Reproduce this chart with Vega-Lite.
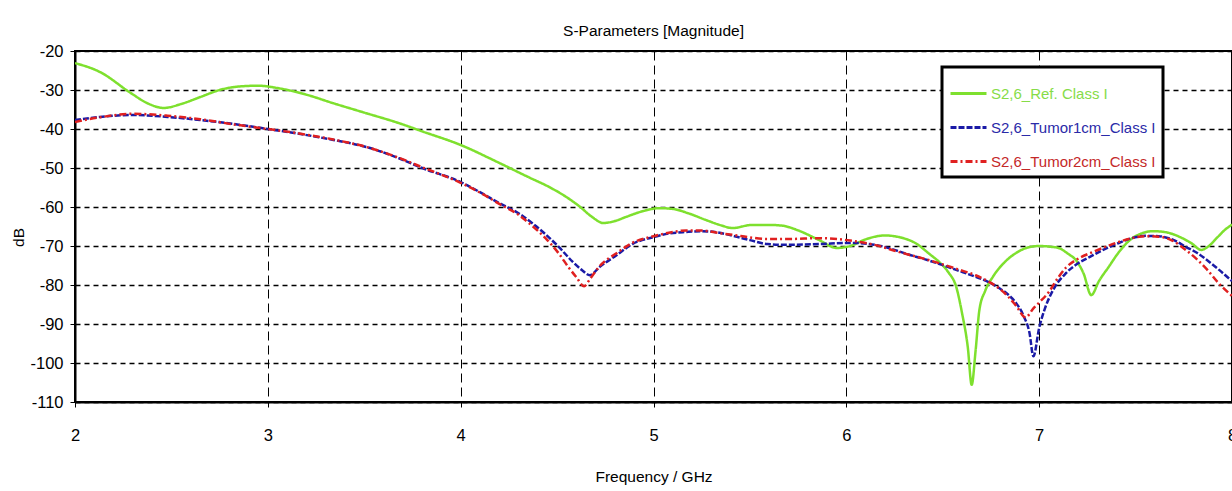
{
  "$schema": "https://vega.github.io/schema/vega-lite/v6.json",
  "width": 1157,
  "height": 351,
  "autosize": "none",
  "padding": {"left": 75, "top": 51, "right": 0, "bottom": 89},
  "background": "white",
  "config": {
    "font": "Liberation Sans",
    "view": {"stroke": "black", "strokeWidth": 2}
  },
  "title": {"text": "S-Parameters [Magnitude]", "fontSize": 15.5, "fontWeight": "normal", "color": "black", "anchor": "middle", "offset": 4},
  "datasets": {
    "curves": [
      {"s": "S2,6_Ref. Class I", "f": 2.00, "dB": -23.1},
      {"s": "S2,6_Ref. Class I", "f": 2.13, "dB": -25.4},
      {"s": "S2,6_Ref. Class I", "f": 2.29, "dB": -30.8},
      {"s": "S2,6_Ref. Class I", "f": 2.38, "dB": -33.5},
      {"s": "S2,6_Ref. Class I", "f": 2.46, "dB": -34.6},
      {"s": "S2,6_Ref. Class I", "f": 2.55, "dB": -33.6},
      {"s": "S2,6_Ref. Class I", "f": 2.65, "dB": -31.8},
      {"s": "S2,6_Ref. Class I", "f": 2.75, "dB": -30.0},
      {"s": "S2,6_Ref. Class I", "f": 2.85, "dB": -29.1},
      {"s": "S2,6_Ref. Class I", "f": 2.95, "dB": -28.9},
      {"s": "S2,6_Ref. Class I", "f": 3.05, "dB": -29.5},
      {"s": "S2,6_Ref. Class I", "f": 3.20, "dB": -31.2},
      {"s": "S2,6_Ref. Class I", "f": 3.34, "dB": -33.4},
      {"s": "S2,6_Ref. Class I", "f": 3.50, "dB": -35.8},
      {"s": "S2,6_Ref. Class I", "f": 3.68, "dB": -38.5},
      {"s": "S2,6_Ref. Class I", "f": 3.80, "dB": -40.6},
      {"s": "S2,6_Ref. Class I", "f": 4.00, "dB": -44.1},
      {"s": "S2,6_Ref. Class I", "f": 4.20, "dB": -48.7},
      {"s": "S2,6_Ref. Class I", "f": 4.35, "dB": -52.3},
      {"s": "S2,6_Ref. Class I", "f": 4.46, "dB": -54.9},
      {"s": "S2,6_Ref. Class I", "f": 4.55, "dB": -57.5},
      {"s": "S2,6_Ref. Class I", "f": 4.62, "dB": -60.0},
      {"s": "S2,6_Ref. Class I", "f": 4.68, "dB": -62.5},
      {"s": "S2,6_Ref. Class I", "f": 4.74, "dB": -64.1},
      {"s": "S2,6_Ref. Class I", "f": 4.80, "dB": -63.6},
      {"s": "S2,6_Ref. Class I", "f": 4.86, "dB": -62.5},
      {"s": "S2,6_Ref. Class I", "f": 4.95, "dB": -61.0},
      {"s": "S2,6_Ref. Class I", "f": 5.03, "dB": -60.3},
      {"s": "S2,6_Ref. Class I", "f": 5.10, "dB": -60.5},
      {"s": "S2,6_Ref. Class I", "f": 5.18, "dB": -61.6},
      {"s": "S2,6_Ref. Class I", "f": 5.27, "dB": -63.3},
      {"s": "S2,6_Ref. Class I", "f": 5.35, "dB": -64.7},
      {"s": "S2,6_Ref. Class I", "f": 5.41, "dB": -65.4},
      {"s": "S2,6_Ref. Class I", "f": 5.51, "dB": -64.6},
      {"s": "S2,6_Ref. Class I", "f": 5.60, "dB": -64.6},
      {"s": "S2,6_Ref. Class I", "f": 5.67, "dB": -64.8},
      {"s": "S2,6_Ref. Class I", "f": 5.75, "dB": -66.0},
      {"s": "S2,6_Ref. Class I", "f": 5.86, "dB": -68.5},
      {"s": "S2,6_Ref. Class I", "f": 5.95, "dB": -70.5},
      {"s": "S2,6_Ref. Class I", "f": 6.02, "dB": -70.0},
      {"s": "S2,6_Ref. Class I", "f": 6.10, "dB": -68.3},
      {"s": "S2,6_Ref. Class I", "f": 6.20, "dB": -67.3},
      {"s": "S2,6_Ref. Class I", "f": 6.28, "dB": -67.8},
      {"s": "S2,6_Ref. Class I", "f": 6.36, "dB": -69.3},
      {"s": "S2,6_Ref. Class I", "f": 6.43, "dB": -72.0},
      {"s": "S2,6_Ref. Class I", "f": 6.49, "dB": -74.5},
      {"s": "S2,6_Ref. Class I", "f": 6.53, "dB": -76.8},
      {"s": "S2,6_Ref. Class I", "f": 6.57, "dB": -80.5},
      {"s": "S2,6_Ref. Class I", "f": 6.60, "dB": -87.2},
      {"s": "S2,6_Ref. Class I", "f": 6.63, "dB": -96.0},
      {"s": "S2,6_Ref. Class I", "f": 6.65, "dB": -105.6},
      {"s": "S2,6_Ref. Class I", "f": 6.67, "dB": -97.0},
      {"s": "S2,6_Ref. Class I", "f": 6.69, "dB": -86.4},
      {"s": "S2,6_Ref. Class I", "f": 6.72, "dB": -81.5},
      {"s": "S2,6_Ref. Class I", "f": 6.76, "dB": -77.9},
      {"s": "S2,6_Ref. Class I", "f": 6.82, "dB": -74.2},
      {"s": "S2,6_Ref. Class I", "f": 6.88, "dB": -71.8},
      {"s": "S2,6_Ref. Class I", "f": 6.94, "dB": -70.4},
      {"s": "S2,6_Ref. Class I", "f": 7.00, "dB": -70.0},
      {"s": "S2,6_Ref. Class I", "f": 7.06, "dB": -70.2},
      {"s": "S2,6_Ref. Class I", "f": 7.10, "dB": -70.5},
      {"s": "S2,6_Ref. Class I", "f": 7.15, "dB": -72.0},
      {"s": "S2,6_Ref. Class I", "f": 7.19, "dB": -73.6},
      {"s": "S2,6_Ref. Class I", "f": 7.23, "dB": -77.0},
      {"s": "S2,6_Ref. Class I", "f": 7.27, "dB": -82.6},
      {"s": "S2,6_Ref. Class I", "f": 7.31, "dB": -79.0},
      {"s": "S2,6_Ref. Class I", "f": 7.36, "dB": -75.4},
      {"s": "S2,6_Ref. Class I", "f": 7.41, "dB": -71.8},
      {"s": "S2,6_Ref. Class I", "f": 7.47, "dB": -68.5},
      {"s": "S2,6_Ref. Class I", "f": 7.53, "dB": -66.8},
      {"s": "S2,6_Ref. Class I", "f": 7.59, "dB": -66.2},
      {"s": "S2,6_Ref. Class I", "f": 7.66, "dB": -66.5},
      {"s": "S2,6_Ref. Class I", "f": 7.73, "dB": -67.7},
      {"s": "S2,6_Ref. Class I", "f": 7.79, "dB": -69.3},
      {"s": "S2,6_Ref. Class I", "f": 7.84, "dB": -71.0},
      {"s": "S2,6_Ref. Class I", "f": 7.88, "dB": -70.0},
      {"s": "S2,6_Ref. Class I", "f": 7.92, "dB": -68.0},
      {"s": "S2,6_Ref. Class I", "f": 7.96, "dB": -66.0},
      {"s": "S2,6_Ref. Class I", "f": 8.00, "dB": -64.5},

      {"s": "S2,6_Tumor1cm_Class I", "f": 2.00, "dB": -37.7},
      {"s": "S2,6_Tumor1cm_Class I", "f": 2.13, "dB": -36.9},
      {"s": "S2,6_Tumor1cm_Class I", "f": 2.30, "dB": -36.4},
      {"s": "S2,6_Tumor1cm_Class I", "f": 2.48, "dB": -36.9},
      {"s": "S2,6_Tumor1cm_Class I", "f": 2.65, "dB": -37.7},
      {"s": "S2,6_Tumor1cm_Class I", "f": 2.82, "dB": -38.7},
      {"s": "S2,6_Tumor1cm_Class I", "f": 3.00, "dB": -40.0},
      {"s": "S2,6_Tumor1cm_Class I", "f": 3.17, "dB": -41.3},
      {"s": "S2,6_Tumor1cm_Class I", "f": 3.34, "dB": -42.8},
      {"s": "S2,6_Tumor1cm_Class I", "f": 3.51, "dB": -44.6},
      {"s": "S2,6_Tumor1cm_Class I", "f": 3.68, "dB": -47.5},
      {"s": "S2,6_Tumor1cm_Class I", "f": 3.80, "dB": -50.0},
      {"s": "S2,6_Tumor1cm_Class I", "f": 4.00, "dB": -53.6},
      {"s": "S2,6_Tumor1cm_Class I", "f": 4.10, "dB": -56.2},
      {"s": "S2,6_Tumor1cm_Class I", "f": 4.20, "dB": -59.0},
      {"s": "S2,6_Tumor1cm_Class I", "f": 4.30, "dB": -61.6},
      {"s": "S2,6_Tumor1cm_Class I", "f": 4.37, "dB": -64.1},
      {"s": "S2,6_Tumor1cm_Class I", "f": 4.44, "dB": -67.0},
      {"s": "S2,6_Tumor1cm_Class I", "f": 4.51, "dB": -70.3},
      {"s": "S2,6_Tumor1cm_Class I", "f": 4.58, "dB": -74.0},
      {"s": "S2,6_Tumor1cm_Class I", "f": 4.63, "dB": -76.2},
      {"s": "S2,6_Tumor1cm_Class I", "f": 4.67, "dB": -77.5},
      {"s": "S2,6_Tumor1cm_Class I", "f": 4.72, "dB": -75.4},
      {"s": "S2,6_Tumor1cm_Class I", "f": 4.81, "dB": -72.3},
      {"s": "S2,6_Tumor1cm_Class I", "f": 4.89, "dB": -69.5},
      {"s": "S2,6_Tumor1cm_Class I", "f": 5.00, "dB": -67.7},
      {"s": "S2,6_Tumor1cm_Class I", "f": 5.08, "dB": -66.8},
      {"s": "S2,6_Tumor1cm_Class I", "f": 5.17, "dB": -66.4},
      {"s": "S2,6_Tumor1cm_Class I", "f": 5.25, "dB": -66.2},
      {"s": "S2,6_Tumor1cm_Class I", "f": 5.33, "dB": -66.5},
      {"s": "S2,6_Tumor1cm_Class I", "f": 5.42, "dB": -67.5},
      {"s": "S2,6_Tumor1cm_Class I", "f": 5.50, "dB": -68.5},
      {"s": "S2,6_Tumor1cm_Class I", "f": 5.59, "dB": -69.5},
      {"s": "S2,6_Tumor1cm_Class I", "f": 5.70, "dB": -69.7},
      {"s": "S2,6_Tumor1cm_Class I", "f": 5.86, "dB": -69.5},
      {"s": "S2,6_Tumor1cm_Class I", "f": 6.02, "dB": -69.2},
      {"s": "S2,6_Tumor1cm_Class I", "f": 6.17, "dB": -69.9},
      {"s": "S2,6_Tumor1cm_Class I", "f": 6.25, "dB": -71.0},
      {"s": "S2,6_Tumor1cm_Class I", "f": 6.33, "dB": -72.3},
      {"s": "S2,6_Tumor1cm_Class I", "f": 6.42, "dB": -73.6},
      {"s": "S2,6_Tumor1cm_Class I", "f": 6.50, "dB": -74.9},
      {"s": "S2,6_Tumor1cm_Class I", "f": 6.58, "dB": -76.3},
      {"s": "S2,6_Tumor1cm_Class I", "f": 6.67, "dB": -77.9},
      {"s": "S2,6_Tumor1cm_Class I", "f": 6.74, "dB": -79.3},
      {"s": "S2,6_Tumor1cm_Class I", "f": 6.79, "dB": -80.7},
      {"s": "S2,6_Tumor1cm_Class I", "f": 6.84, "dB": -82.5},
      {"s": "S2,6_Tumor1cm_Class I", "f": 6.88, "dB": -84.6},
      {"s": "S2,6_Tumor1cm_Class I", "f": 6.92, "dB": -88.0},
      {"s": "S2,6_Tumor1cm_Class I", "f": 6.95, "dB": -92.3},
      {"s": "S2,6_Tumor1cm_Class I", "f": 6.97, "dB": -98.3},
      {"s": "S2,6_Tumor1cm_Class I", "f": 7.00, "dB": -91.0},
      {"s": "S2,6_Tumor1cm_Class I", "f": 7.03, "dB": -86.0},
      {"s": "S2,6_Tumor1cm_Class I", "f": 7.07, "dB": -81.5},
      {"s": "S2,6_Tumor1cm_Class I", "f": 7.14, "dB": -76.9},
      {"s": "S2,6_Tumor1cm_Class I", "f": 7.20, "dB": -74.5},
      {"s": "S2,6_Tumor1cm_Class I", "f": 7.27, "dB": -72.6},
      {"s": "S2,6_Tumor1cm_Class I", "f": 7.34, "dB": -70.8},
      {"s": "S2,6_Tumor1cm_Class I", "f": 7.41, "dB": -69.3},
      {"s": "S2,6_Tumor1cm_Class I", "f": 7.48, "dB": -68.0},
      {"s": "S2,6_Tumor1cm_Class I", "f": 7.55, "dB": -67.4},
      {"s": "S2,6_Tumor1cm_Class I", "f": 7.62, "dB": -67.5},
      {"s": "S2,6_Tumor1cm_Class I", "f": 7.69, "dB": -68.3},
      {"s": "S2,6_Tumor1cm_Class I", "f": 7.76, "dB": -70.2},
      {"s": "S2,6_Tumor1cm_Class I", "f": 7.82, "dB": -71.8},
      {"s": "S2,6_Tumor1cm_Class I", "f": 7.87, "dB": -73.6},
      {"s": "S2,6_Tumor1cm_Class I", "f": 7.93, "dB": -76.0},
      {"s": "S2,6_Tumor1cm_Class I", "f": 8.00, "dB": -79.0},

      {"s": "S2,6_Tumor2cm_Class I", "f": 2.00, "dB": -38.2},
      {"s": "S2,6_Tumor2cm_Class I", "f": 2.13, "dB": -37.0},
      {"s": "S2,6_Tumor2cm_Class I", "f": 2.30, "dB": -36.1},
      {"s": "S2,6_Tumor2cm_Class I", "f": 2.48, "dB": -36.6},
      {"s": "S2,6_Tumor2cm_Class I", "f": 2.65, "dB": -37.5},
      {"s": "S2,6_Tumor2cm_Class I", "f": 2.82, "dB": -38.8},
      {"s": "S2,6_Tumor2cm_Class I", "f": 3.00, "dB": -40.0},
      {"s": "S2,6_Tumor2cm_Class I", "f": 3.17, "dB": -41.2},
      {"s": "S2,6_Tumor2cm_Class I", "f": 3.34, "dB": -42.7},
      {"s": "S2,6_Tumor2cm_Class I", "f": 3.51, "dB": -44.6},
      {"s": "S2,6_Tumor2cm_Class I", "f": 3.68, "dB": -47.4},
      {"s": "S2,6_Tumor2cm_Class I", "f": 3.80, "dB": -49.8},
      {"s": "S2,6_Tumor2cm_Class I", "f": 4.00, "dB": -53.8},
      {"s": "S2,6_Tumor2cm_Class I", "f": 4.10, "dB": -56.3},
      {"s": "S2,6_Tumor2cm_Class I", "f": 4.20, "dB": -59.2},
      {"s": "S2,6_Tumor2cm_Class I", "f": 4.30, "dB": -62.0},
      {"s": "S2,6_Tumor2cm_Class I", "f": 4.37, "dB": -64.8},
      {"s": "S2,6_Tumor2cm_Class I", "f": 4.44, "dB": -68.0},
      {"s": "S2,6_Tumor2cm_Class I", "f": 4.51, "dB": -72.0},
      {"s": "S2,6_Tumor2cm_Class I", "f": 4.56, "dB": -75.5},
      {"s": "S2,6_Tumor2cm_Class I", "f": 4.60, "dB": -78.0},
      {"s": "S2,6_Tumor2cm_Class I", "f": 4.64, "dB": -80.3},
      {"s": "S2,6_Tumor2cm_Class I", "f": 4.67, "dB": -78.5},
      {"s": "S2,6_Tumor2cm_Class I", "f": 4.72, "dB": -75.2},
      {"s": "S2,6_Tumor2cm_Class I", "f": 4.81, "dB": -71.8},
      {"s": "S2,6_Tumor2cm_Class I", "f": 4.89, "dB": -69.2},
      {"s": "S2,6_Tumor2cm_Class I", "f": 5.00, "dB": -67.5},
      {"s": "S2,6_Tumor2cm_Class I", "f": 5.08, "dB": -66.6},
      {"s": "S2,6_Tumor2cm_Class I", "f": 5.17, "dB": -66.0},
      {"s": "S2,6_Tumor2cm_Class I", "f": 5.25, "dB": -66.0},
      {"s": "S2,6_Tumor2cm_Class I", "f": 5.33, "dB": -66.6},
      {"s": "S2,6_Tumor2cm_Class I", "f": 5.42, "dB": -67.2},
      {"s": "S2,6_Tumor2cm_Class I", "f": 5.50, "dB": -67.8},
      {"s": "S2,6_Tumor2cm_Class I", "f": 5.59, "dB": -68.2},
      {"s": "S2,6_Tumor2cm_Class I", "f": 5.70, "dB": -68.2},
      {"s": "S2,6_Tumor2cm_Class I", "f": 5.86, "dB": -68.0},
      {"s": "S2,6_Tumor2cm_Class I", "f": 6.02, "dB": -68.6},
      {"s": "S2,6_Tumor2cm_Class I", "f": 6.17, "dB": -70.0},
      {"s": "S2,6_Tumor2cm_Class I", "f": 6.25, "dB": -71.2},
      {"s": "S2,6_Tumor2cm_Class I", "f": 6.33, "dB": -72.3},
      {"s": "S2,6_Tumor2cm_Class I", "f": 6.42, "dB": -73.5},
      {"s": "S2,6_Tumor2cm_Class I", "f": 6.50, "dB": -74.7},
      {"s": "S2,6_Tumor2cm_Class I", "f": 6.58, "dB": -76.0},
      {"s": "S2,6_Tumor2cm_Class I", "f": 6.67, "dB": -77.5},
      {"s": "S2,6_Tumor2cm_Class I", "f": 6.74, "dB": -79.2},
      {"s": "S2,6_Tumor2cm_Class I", "f": 6.79, "dB": -80.8},
      {"s": "S2,6_Tumor2cm_Class I", "f": 6.84, "dB": -83.0},
      {"s": "S2,6_Tumor2cm_Class I", "f": 6.88, "dB": -85.3},
      {"s": "S2,6_Tumor2cm_Class I", "f": 6.93, "dB": -88.3},
      {"s": "S2,6_Tumor2cm_Class I", "f": 6.97, "dB": -86.0},
      {"s": "S2,6_Tumor2cm_Class I", "f": 7.00, "dB": -84.5},
      {"s": "S2,6_Tumor2cm_Class I", "f": 7.05, "dB": -81.8},
      {"s": "S2,6_Tumor2cm_Class I", "f": 7.10, "dB": -78.0},
      {"s": "S2,6_Tumor2cm_Class I", "f": 7.14, "dB": -75.5},
      {"s": "S2,6_Tumor2cm_Class I", "f": 7.20, "dB": -73.3},
      {"s": "S2,6_Tumor2cm_Class I", "f": 7.27, "dB": -71.7},
      {"s": "S2,6_Tumor2cm_Class I", "f": 7.34, "dB": -70.3},
      {"s": "S2,6_Tumor2cm_Class I", "f": 7.41, "dB": -69.0},
      {"s": "S2,6_Tumor2cm_Class I", "f": 7.48, "dB": -68.0},
      {"s": "S2,6_Tumor2cm_Class I", "f": 7.55, "dB": -67.5},
      {"s": "S2,6_Tumor2cm_Class I", "f": 7.62, "dB": -67.6},
      {"s": "S2,6_Tumor2cm_Class I", "f": 7.69, "dB": -68.6},
      {"s": "S2,6_Tumor2cm_Class I", "f": 7.76, "dB": -71.0},
      {"s": "S2,6_Tumor2cm_Class I", "f": 7.82, "dB": -73.5},
      {"s": "S2,6_Tumor2cm_Class I", "f": 7.87, "dB": -76.0},
      {"s": "S2,6_Tumor2cm_Class I", "f": 7.93, "dB": -79.5},
      {"s": "S2,6_Tumor2cm_Class I", "f": 8.00, "dB": -82.8}
    ]
  },
  "data": {"name": "curves"},
  "mark": {"type": "line", "strokeWidth": 2.5, "interpolate": "monotone", "clip": true},
  "encoding": {
    "x": {
      "field": "f", "type": "quantitative",
      "scale": {"domain": [2, 8], "nice": false, "zero": false},
      "axis": {
        "values": [2, 3, 4, 5, 6, 7, 8], "format": "d",
        "title": "Frequency / GHz", "titleFontSize": 15.5, "titleFontWeight": "normal", "titleColor": "black",
        "titleY": 67, "titleBaseline": "top",
        "labelFontSize": 16.5, "labelColor": "black", "labelPadding": 20, "labelFlush": false,
        "tickColor": "black", "tickSize": 5, "domainColor": "black", "domainWidth": 2,
        "grid": true, "gridColor": "black", "gridDash": [9, 5], "gridWidth": 1, "gridOpacity": 1
      }
    },
    "y": {
      "field": "dB", "type": "quantitative",
      "scale": {"domain": [-110, -20], "nice": false, "zero": false},
      "axis": {
        "values": [-110, -100, -90, -80, -70, -60, -50, -40, -30, -20],
        "labelExpr": "'' + datum.value",
        "title": "dB", "titleFontSize": 15.5, "titleFontWeight": "normal", "titleColor": "black",
        "titleX": -57, "titleY": 186, "titleAngle": -90, "titleAlign": "center", "titleBaseline": "middle",
        "labelFontSize": 16.5, "labelColor": "black", "labelPadding": 7, "labelFlush": false,
        "tickColor": "black", "tickSize": 5, "domainColor": "black", "domainWidth": 2,
        "grid": true, "gridColor": "black", "gridDash": [5, 4], "gridWidth": 1.5, "gridOpacity": 1
      }
    },
    "color": {
      "field": "s", "type": "nominal",
      "scale": {"domain": ["S2,6_Ref. Class I", "S2,6_Tumor1cm_Class I", "S2,6_Tumor2cm_Class I"], "range": ["#7ee02e", "#1a1aa6", "#e02020"]},
      "legend": {
        "orient": "none", "legendX": 867, "legendY": 16, "title": null,
        "symbolType": "stroke", "symbolSize": 1296, "symbolStrokeWidth": 3,
        "labelFontSize": 15, "labelOffset": 3, "labelLimit": 300,
        "padding": 7, "rowPadding": 6, "strokeColor": "black", "fillColor": "white",
        "encode": {
          "legend": {"update": {"strokeWidth": {"value": 3}}},
          "labels": {"update": {"fill": {"signal": "datum.value === 'S2,6_Ref. Class I' ? '#86dc48' : datum.value === 'S2,6_Tumor1cm_Class I' ? '#2a2aa8' : '#c42828'"}}}
        }
      }
    },
    "strokeDash": {
      "field": "s", "type": "nominal",
      "scale": {"domain": ["S2,6_Ref. Class I", "S2,6_Tumor1cm_Class I", "S2,6_Tumor2cm_Class I"], "range": [[1, 0], [6, 2], [7, 3, 2, 3]]},
      "legend": {
        "orient": "none", "legendX": 867, "legendY": 16, "title": null,
        "symbolType": "stroke", "symbolSize": 1296, "symbolStrokeWidth": 3,
        "labelFontSize": 15, "labelOffset": 3, "labelLimit": 300,
        "padding": 7, "rowPadding": 6, "strokeColor": "black", "fillColor": "white",
        "encode": {
          "legend": {"update": {"strokeWidth": {"value": 3}}},
          "labels": {"update": {"fill": {"signal": "datum.value === 'S2,6_Ref. Class I' ? '#86dc48' : datum.value === 'S2,6_Tumor1cm_Class I' ? '#2a2aa8' : '#c42828'"}}}
        }
      }
    }
  }
}
